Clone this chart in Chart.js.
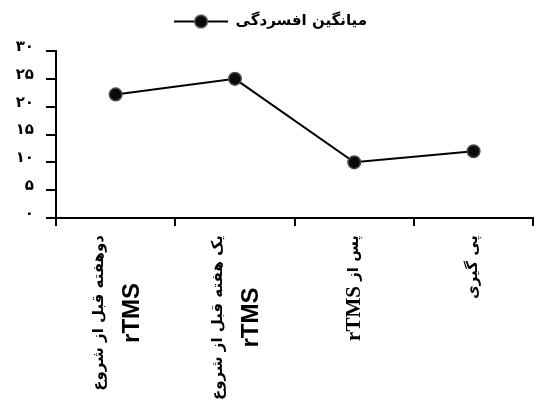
<!DOCTYPE html>
<html lang="fa">
<head>
<meta charset="utf-8">
<title>میانگین افسردگی</title>
<script src="https://cdn.jsdelivr.net/npm/chart.js@4/dist/chart.umd.min.js"></script>
<style>
  html, body { margin: 0; padding: 0; background: #fff; }
  #wrap { width: 541px; height: 401px; }
</style>
</head>
<body>
<div id="wrap"><canvas id="chart" width="541" height="401"></canvas></div>
<script>
// Series and axis data
const seriesName = 'میانگین افسردگی';
const categories = [
  ['دوهفته قبل از شروع', 'rTMS'],
  ['یک هفته قبل از شروع', 'rTMS'],
  ['پس از rTMS'],
  ['پی گیری']
];
const depressionMean = [22.2, 25, 10, 12];
const yTickValues = [0, 5, 10, 15, 20, 25, 30];
const yTickLabels = ['۰', '۵', '۱۰', '۱۵', '۲۰', '۲۵', '۳۰'];

// Fonts used for the category labels
const persianFont = "bold 15px 'DejaVu Sans'";
const latinFonts = [
  "bold 24px 'Liberation Sans'",
  "bold 24px 'Liberation Sans'",
  "bold 21px 'Liberation Serif'",
  "bold 24px 'Liberation Sans'"
];

// Legend marker: a line with a filled circle in the middle
function makeLegendMarker() {
  const c = document.createElement('canvas');
  c.width = 54; c.height = 16;
  const g = c.getContext('2d');
  g.strokeStyle = '#000'; g.lineWidth = 2;
  g.beginPath(); g.moveTo(0, 8); g.lineTo(54, 8); g.stroke();
  g.beginPath(); g.arc(27, 8, 6.3, 0, Math.PI * 2);
  g.fillStyle = '#0a0a0a'; g.fill();
  g.lineWidth = 1.5; g.strokeStyle = '#4a4a4a'; g.stroke();
  return c;
}
const legendMarker = makeLegendMarker();

// Extra space kept below the legend row
const legendGap = {
  id: 'legendGap',
  beforeLayout(chart) {
    const lg = chart.legend;
    if (lg && !lg._gapWrapped) {
      const fit = lg.fit.bind(lg);
      lg.fit = function () { fit(); this.height += 12; };
      lg._gapWrapped = true;
    }
  }
};

// Vertical category labels, each line centred inside its label block
const rotatedLabels = {
  id: 'rotatedLabels',
  afterDraw(chart) {
    const scale = chart.scales.x;
    const ctx = chart.ctx;
    const top = scale.top + 17;
    const lineGap = 33;
    ctx.save();
    ctx.fillStyle = '#000';
    ctx.textBaseline = 'middle';
    chart.data.labels.forEach((lines, i) => {
      const cx = scale.getPixelForTick(i);
      const measured = lines.map(line => {
        const runs = line.split(/([A-Za-z]+)/).filter(s => s.length).map(text => {
          const latin = /^[A-Za-z]+$/.test(text);
          const font = latin ? latinFonts[i] : persianFont;
          ctx.font = font;
          return { text, font, latin, width: ctx.measureText(text).width };
        });
        return { runs, width: runs.reduce((a, r) => a + r.width, 0) };
      });
      const blockLen = Math.max(...measured.map(m => m.width));
      ctx.save();
      ctx.translate(cx, top);
      ctx.rotate(-Math.PI / 2);
      measured.forEach((m, k) => {
        const y = (k - (measured.length - 1) / 2) * lineGap;
        let right = -(blockLen - m.width) / 2;
        m.runs.forEach(r => {
          ctx.font = r.font;
          ctx.direction = r.latin ? 'ltr' : 'rtl';
          ctx.textAlign = 'right';
          ctx.fillText(r.text, right, y);
          right -= r.width;
        });
      });
      ctx.restore();
    });
    ctx.restore();
  }
};

new Chart(document.getElementById('chart'), {
  type: 'line',
  data: {
    labels: categories,
    datasets: [{
      label: seriesName,
      data: depressionMean,
      borderColor: '#000',
      borderWidth: 2,
      tension: 0,
      fill: false,
      pointRadius: 6.3,
      pointBackgroundColor: '#0a0a0a',
      pointBorderColor: '#4a4a4a',
      pointBorderWidth: 1.5,
      clip: false
    }]
  },
  options: {
    responsive: false,
    animation: false,
    devicePixelRatio: 1,
    layout: { padding: { top: 0, left: 0, right: 0, bottom: 0 } },
    plugins: {
      tooltip: { enabled: false },
      legend: {
        position: 'top',
        labels: {
          usePointStyle: true,
          pointStyleWidth: 54,
          padding: 14,
          color: '#000',
          font: { family: 'DejaVu Sans', size: 15, weight: 'bold' },
          generateLabels(chart) {
            return Chart.defaults.plugins.legend.labels.generateLabels(chart)
              .map(item => Object.assign(item, { pointStyle: legendMarker }));
          }
        }
      }
    },
    scales: {
      x: {
        offset: true,
        afterFit(s) { s.height = 183; },
        border: { display: true, color: '#000', width: 2 },
        grid: { offset: true, drawOnChartArea: false, drawTicks: true, tickLength: 8, color: '#000', lineWidth: 2 },
        ticks: { display: false }
      },
      y: {
        min: 0,
        max: 30,
        afterBuildTicks(s) { s.ticks = yTickValues.map(v => ({ value: v })); },
        afterFit(s) { s.width = 56; },
        border: { display: true, color: '#000', width: 2 },
        grid: { drawOnChartArea: false, drawTicks: true, tickLength: 10, color: '#000', lineWidth: 2 },
        ticks: {
          padding: 12,
          labelOffset: -4,
          color: '#000',
          font: { family: 'DejaVu Sans', size: 15, weight: 'bold' },
          callback: (v, i) => yTickLabels[i]
        }
      }
    }
  },
  plugins: [legendGap, rotatedLabels]
});
</script>
</body>
</html>
